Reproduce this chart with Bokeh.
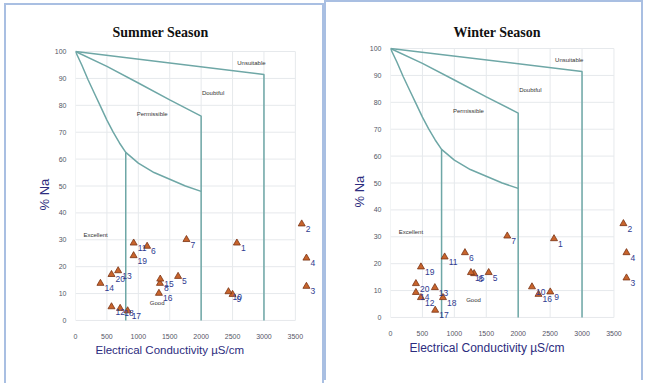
from bokeh.plotting import figure
from bokeh.layouts import row
from bokeh.models import FixedTicker, Title, Range1d
from bokeh.core.properties import value
from bokeh.embed import file_html
from bokeh.resources import INLINE

# ---------------- data ----------------
sample_ids = [str(i) for i in range(1, 21)]

summer_ec = [2569, 3601, 3676, 3676, 1633, 1140, 1766, 1344, 2500, 2435,
             926, 573, 679, 397, 1349, 1328, 830, 711, 925, 573]
summer_na = [28.8, 35.9, 12.7, 23.2, 16.4, 27.6, 30.1, 13.8, 9.7, 10.7,
             28.8, 5.1, 18.5, 13.8, 15.4, 10.1, 3.6, 4.5, 24.1, 17.1]

winter_ec = [2561, 3648, 3696, 3696, 1538, 1166, 1829, 1310, 2502, 2216,
             848, 477, 695, 398, 1260, 2318, 700, 822, 477, 398]
winter_na = [29.3, 34.9, 14.7, 24.1, 16.7, 24.1, 30.3, 16.3, 9.5, 11.4,
             22.5, 7.4, 11.1, 9.3, 16.7, 8.6, 2.7, 7.4, 18.8, 12.6]

x_ticks = [0, 500, 1000, 1500, 2000, 2500, 3000, 3500]
y_ticks = [0, 10, 20, 30, 40, 50, 60, 70, 80, 90, 100]

# Wilcox diagram class boundaries
unsuitable_ec = [0, 3000, 3000]
unsuitable_na = [100, 91.5, 0]
doubtful_ec = [0, 500, 1000, 1500, 2000, 2000]
doubtful_na = [100, 94.5, 88.3, 82.0, 76.0, 0]
permissible_ec = [0, 100, 200, 300, 400, 500, 600, 700, 800, 1000, 1250, 1500, 1750, 2000]
permissible_na = [100, 95, 89.5, 84.5, 79.5, 74.5, 70, 66, 62.5, 58.5, 55, 52.5, 50, 48]
good_ec = [800, 800]
good_na = [62.5, 0]

zone_names = ["Unsuitable", "Doubtful", "Permissible", "Excellent", "Good"]
zone_ec = [2800, 2190, 1220, 320, 1300]
zone_na = [95.6, 84.5, 76.6, 31.6, 6.6]

BOUND = "#6ea7a6"
GRID = "#e6e9ec"
NAVY = "#2c2c7e"


def panel(title, ec, na, width, height, margin, mb, t_off, t_standoff, t_valign,
          xl_off, xl_size, yl_off):
    p = figure(width=width, height=height, x_range=Range1d(0, 3900), y_range=Range1d(-1.5, 101.5),
               output_backend="svg", toolbar_location=None,
               min_border_left=mb[0], min_border_right=mb[1],
               min_border_top=mb[2], min_border_bottom=mb[3])
    p.margin = margin
    p.grid.visible = False
    p.outline_line_color = None
    p.styles = {"border-top": "2px solid #a9bfe2", "border-left": "2px solid #a9bfe2",
                "border-right": "2px solid #a9bfe2"}

    # grid
    p.segment(x0=[x_ticks[0]] * len(y_ticks), y0=y_ticks, x1=[x_ticks[-1]] * len(y_ticks), y1=y_ticks,
              line_color=GRID, line_width=1)
    p.segment(x0=x_ticks, y0=[y_ticks[0]] * len(x_ticks), x1=x_ticks, y1=[y_ticks[-1]] * len(x_ticks),
              line_color=GRID, line_width=1)

    # boundaries
    for bx, by in [(unsuitable_ec, unsuitable_na), (doubtful_ec, doubtful_na),
                   (permissible_ec, permissible_na), (good_ec, good_na)]:
        p.line(bx, by, line_color=BOUND, line_width=1.5)

    p.text(zone_ec, zone_na, text=zone_names, text_font=value("Liberation Sans"),
           text_font_size="6px", text_color="#333333", text_align="center", text_baseline="middle")

    p.scatter(ec, na, marker="triangle", size=7, fill_color="#c8642c", line_color="#7a3414",
              line_width=0.8)
    p.text(ec, na, text=sample_ids, x_offset=4, y_offset=5, text_font=value("Liberation Sans"),
           text_font_size="8.5px", text_color="#2f3b8f", text_align="left", text_baseline="middle")

    for ax in (p.xaxis, p.yaxis):
        ax.axis_line_color = None
        ax.major_tick_line_color = None
        ax.minor_tick_line_color = None
        ax.major_label_text_font_size = "7px"
        ax.major_label_text_color = "#555566"
        ax.major_label_standoff = 3
    p.xaxis.ticker = FixedTicker(ticks=x_ticks)
    p.yaxis.ticker = FixedTicker(ticks=y_ticks)

    p.title.text = title
    p.title.text_font = "Liberation Serif"
    p.title.text_font_style = "bold"
    p.title.text_font_size = "14px"
    p.title.text_color = "#111111"
    p.title.align = "left"
    p.title.offset = t_off
    p.title.standoff = t_standoff
    p.title.vertical_align = t_valign

    p.add_layout(Title(text="Electrical Conductivity µS/cm", align="left", offset=xl_off,
                       text_font="Liberation Sans", text_font_style="normal",
                       text_font_size=xl_size, text_color=NAVY, standoff=1), "below")
    p.add_layout(Title(text="% Na", align="left", offset=yl_off,
                       text_font="Liberation Sans", text_font_style="normal",
                       text_font_size="13px", text_color=NAVY, standoff=0), "left")
    return p


# min borders: left, right, top, bottom
p1 = panel("Summer Season", summer_ec, summer_na, 320, 380, (3, 0, 0, 4), (69, 6, 42, 61),
           37, 15, "bottom", 20, "11.5px", 114)
p2 = panel("Winter Season", winter_ec, winter_na, 319, 380, (0, 0, 0, 0), (64, 6, 42, 61),
           63, 10, "bottom", 19, "12px", 114)

layout = row(p1, p2)
open("out.html", "w").write(file_html(layout, INLINE))
